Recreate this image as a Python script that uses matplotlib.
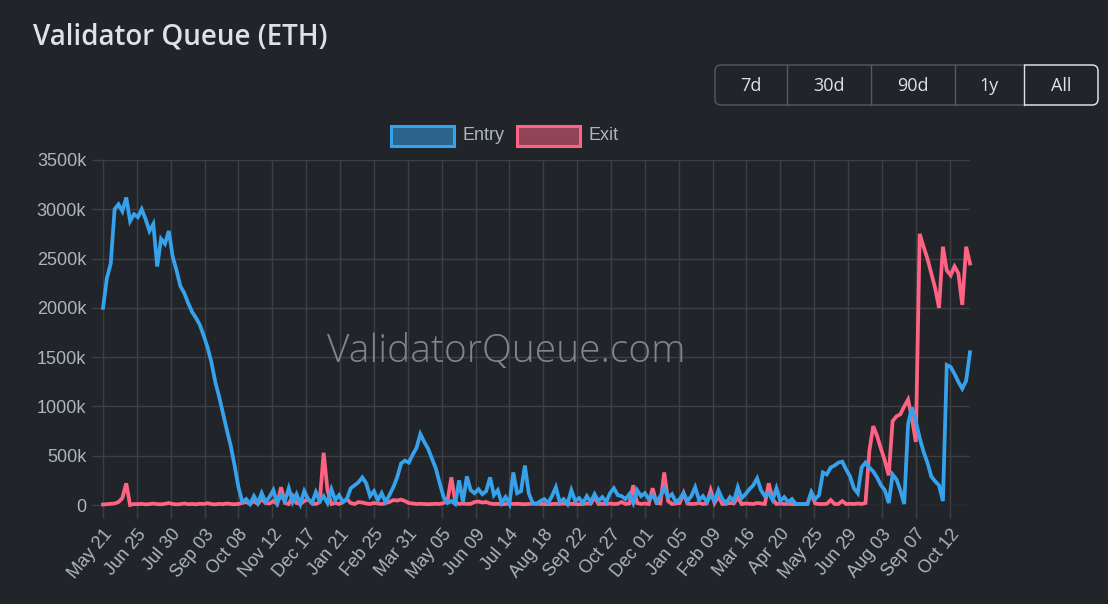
import matplotlib
matplotlib.use("Agg")
import matplotlib.pyplot as plt
import pandas as pd
from matplotlib.patches import FancyBboxPatch, Rectangle
from matplotlib.ticker import FuncFormatter

# ---------------- data (thousands of ETH, one value every 4 days) ----------------
start_date = "2023-05-21"
step_days = 4

entry = [
    2000, 2300, 2450, 3000, 3050, 2980, 3120, 2880, 2950, 2920,
    3000, 2900, 2780, 2850, 2420, 2700, 2650, 2780, 2520, 2380,
    2220, 2150, 2050, 1960, 1900, 1830, 1720, 1600, 1450, 1250,
    1100, 930, 760, 600, 400, 180, 30, 60, 10, 90,
    20, 120, 30, 80, 150, 20, 100, 40, 170, 30,
    110, 10, 140, 60, 20, 130, 40, 90, 20, 160,
    50, 100, 30, 60, 170, 200, 230, 280, 220, 90,
    140, 50, 120, 30, 100, 180, 280, 420, 450, 430,
    510, 580, 720, 640, 570, 470, 370, 220, 80, 20,
    40, 10, 250, 30, 290, 150, 120, 160, 110, 140,
    280, 100, 150, 20, 80, 10, 330, 120, 140, 400,
    120, 20, 10, 40, 60, 20, 90, 180, 30, 60, 10,
    150, 40, 70, 20, 90, 30, 110, 40, 80, 30,
    120, 170, 100, 90, 60, 110, 20, 150, 90, 120,
    60, 100, 30, 90, 170, 80, 110, 30, 60, 120,
    40, 90, 180, 50, 90, 30, 100, 40, 150, 60,
    20, 80, 40, 180, 70, 110, 160, 200, 270, 150,
    90, 120, 50, 170, 40, 80, 30, 60, 10, 10,
    10, 10, 130, 60, 100, 330, 310, 380, 400, 430,
    440, 360, 290, 170, 120, 380, 430, 380, 340, 280,
    200, 150, 20, 310, 260, 150, 10, 820, 990, 850,
    680, 540, 430, 290, 240, 200, 40, 1420, 1400, 1330,
    1250, 1180, 1260, 1550,
]

exit_q = [
    5, 8, 10, 15, 30, 70, 220, 0, 10, 8,
    12, 6, 10, 14, 9, 7, 12, 20, 10, 6,
    9, 15, 8, 11, 7, 13, 10, 18, 9, 6,
    12, 8, 15, 10, 7, 11, 20, 30, 10, 40,
    10, 60, 20, 15, 40, 10, 180, 20, 10, 90,
    20, 10, 40, 60, 15, 10, 30, 530, 150, 10,
    20, 10, 30, 60, 20, 10, 30, 25, 15, 10,
    20, 15, 10, 20, 30, 50, 45, 55, 40, 20,
    15, 10, 12, 10, 8, 10, 12, 10, 20, 40,
    280, 30, 10, 15, 10, 12, 30, 35, 25, 30,
    15, 10, 12, 8, 10, 15, 10, 12, 10, 8,
    10, 12, 15, 10, 10, 8, 10, 12, 10, 15, 10,
    12, 10, 8, 10, 15, 12, 80, 10, 12, 10,
    15, 10, 12, 30, 10, 15, 200, 20, 10, 15,
    10, 170, 20, 15, 330, 40, 10, 15, 20, 120,
    15, 10, 12, 20, 10, 15, 150, 20, 90, 10,
    12, 20, 15, 80, 10, 15, 12, 10, 20, 15,
    10, 220, 60, 10, 15, 10, 12, 10, 8, 10,
    10, 12, 120, 15, 10, 10, 12, 50, 10, 10,
    40, 10, 12, 10, 15, 10, 20, 550, 800, 700,
    570, 450, 300, 850, 900, 920, 1000, 1070, 880, 640,
    2750, 2620, 2500, 2350, 2200, 2000, 2620, 2380, 2330, 2420,
    2350, 2030, 2620, 2450,
]

tick_labels = ["May 21", "Jun 25", "Jul 30", "Sep 03", "Oct 08", "Nov 12", "Dec 17",
               "Jan 21", "Feb 25", "Mar 31", "May 05", "Jun 09", "Jul 14", "Aug 18",
               "Sep 22", "Oct 27", "Dec 01", "Jan 05", "Feb 09", "Mar 16", "Apr 20",
               "May 25", "Jun 29", "Aug 03", "Sep 07", "Oct 12"]
y_ticks = [0, 500, 1000, 1500, 2000, 2500, 3000, 3500]
series_names = ["Entry", "Exit"]
range_buttons = ["7d", "30d", "90d", "1y", "All"]

n = min(len(entry), len(exit_q))
entry = entry[:n]
exit_q = exit_q[:n]
dates = pd.date_range(start_date, periods=n, freq=f"{step_days}D")
tick_dates = pd.date_range(start_date, periods=len(tick_labels), freq="35D")

# ---------------- style ----------------
W, H = 1108, 604
BG = "#212529"
BLUE = "#36A2EB"
RED = "#FF6384"
GRID = "#3c4044"
TXT = "#adb5bd"
LIGHT = "#dee2e6"
TICKFONT = "Liberation Sans"
LW = 2.7

fig = plt.figure(figsize=(W / 100, H / 100), dpi=100, facecolor=BG)
ax = fig.add_axes([103 / W, 1 - 505 / H, (970 - 103) / W, (505 - 160) / H])
ax.set_facecolor(BG)

ax.plot(dates, exit_q, color=RED, lw=LW, zorder=3, clip_on=False, solid_joinstyle="miter")
ax.plot(dates, entry, color=BLUE, lw=LW, zorder=4, clip_on=False, solid_joinstyle="miter")

ax.set_xlim(dates[0], dates[-1])
ax.set_ylim(0, 3500)
ax.set_yticks(y_ticks)
ax.yaxis.set_major_formatter(FuncFormatter(lambda v, p: "0" if v == 0 else f"{int(v)}k"))
ax.set_xticks(tick_dates)
ax.set_xticklabels(tick_labels, rotation=50, ha="right", rotation_mode="anchor")

ax.grid(True, color=GRID, lw=1.0)
ax.set_axisbelow(True)
for s in ["top", "right", "bottom"]:
    ax.spines[s].set_visible(False)
ax.spines["left"].set_color(GRID)
ax.tick_params(axis="y", colors=GRID, length=8, width=1.0, pad=4, labelcolor=TXT, labelsize=13)
ax.tick_params(axis="x", colors=GRID, length=9, width=1.0, pad=6, labelcolor=TXT, labelsize=13)
for lab in ax.get_xticklabels() + ax.get_yticklabels():
    lab.set_fontfamily(TICKFONT)

# ---------------- overlay (pixel coordinates) ----------------
ov = fig.add_axes([0, 0, 1, 1], zorder=10)
ov.set_xlim(0, W)
ov.set_ylim(H, 0)
ov.axis("off")

ov.text(33, 37, "Validator Queue (ETH)", ha="left", va="center", fontsize=20,
        fontweight="semibold", color=LIGHT, fontfamily="Open Sans")

# button group
bx0, bx1, by0, by1 = 715, 1098, 65, 105
grp = FancyBboxPatch((bx0, by0), bx1 - bx0, by1 - by0, boxstyle="round,pad=0,rounding_size=6",
                     facecolor=BG, edgecolor="#555a5f", lw=1.0)
ov.add_patch(grp)
dividers = [787, 871, 955]
for dx in dividers:
    ov.plot([dx, dx], [by0, by1], color="#555a5f", lw=1.0)
active = FancyBboxPatch((bx0, by0), bx1 - bx0, by1 - by0, boxstyle="round,pad=0,rounding_size=6",
                        facecolor="none", edgecolor=LIGHT, lw=1.0)
ov.add_patch(active)
active.set_clip_path(Rectangle((1024, 60), 80, 50, transform=ov.transData))
ov.plot([1024, 1024], [by0, by1], color=LIGHT, lw=1.0)
edges = [bx0] + dividers + [1024, bx1]
for lab, a, b in zip(range_buttons, edges[:-1], edges[1:]):
    ov.text((a + b) / 2, 86, lab, ha="center", va="center", fontsize=13,
            color=LIGHT, fontfamily="Open Sans")

# legend
leg_items = [(391, series_names[0], BLUE), (517, series_names[1], RED)]
for x0, name, col in leg_items:
    ov.add_patch(Rectangle((x0, 126), 63, 20, facecolor=col, alpha=0.5, edgecolor="none"))
    ov.add_patch(Rectangle((x0, 126), 63, 20, facecolor="none", edgecolor=col, lw=2.2))
    ov.text(x0 + 71, 136, name, ha="left", va="center", fontsize=13, color=TXT,
            fontfamily=TICKFONT)

# watermark
ov.text(506, 352, "ValidatorQueue.com", ha="center", va="center", fontsize=28,
        color="#82868b", fontfamily="Open Sans", fontweight="light")

fig.savefig("out.png", dpi=100, facecolor=BG)
